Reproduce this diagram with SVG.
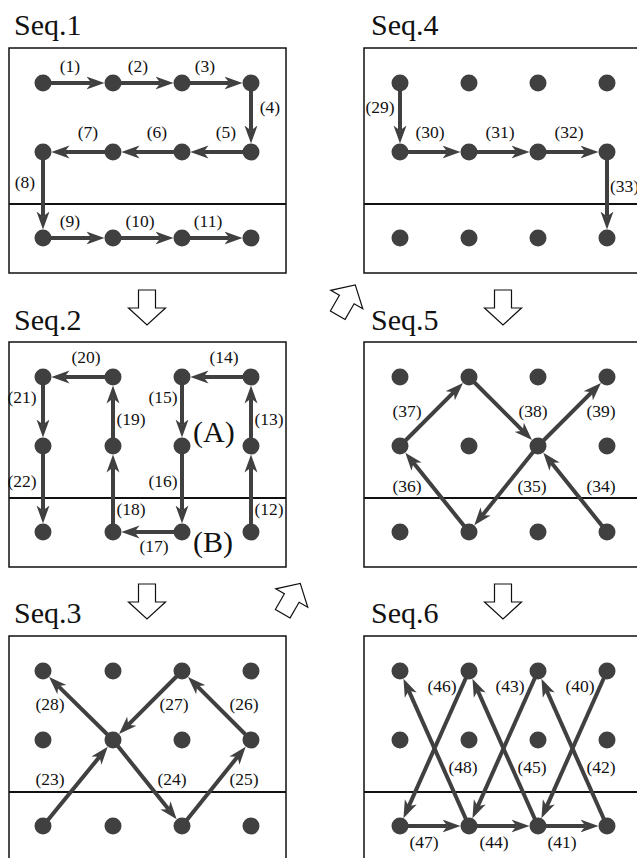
<svg xmlns="http://www.w3.org/2000/svg" width="637" height="858" viewBox="0 0 637 858">
<style>
.box{fill:none;stroke:#111;stroke-width:1.5}
.div{stroke:#111;stroke-width:2}
.dot{fill:#404040}
.c line{stroke:#404040;stroke-width:4;marker-end:url(#ah)}
.t{font-family:"Liberation Serif","Times New Roman",serif;font-size:30px;fill:#111}
.l{font-family:"Liberation Serif","Times New Roman",serif;font-size:17.5px;fill:#111;text-anchor:middle}
.big{font-family:"Liberation Serif","Times New Roman",serif;font-size:30px;fill:#111}
.ha{fill:#fff;stroke:#111;stroke-width:1.2}
</style>
<defs>
<marker id="ah" markerUnits="userSpaceOnUse" markerWidth="18" markerHeight="14" viewBox="0 -7 18 14" refX="5" refY="0" orient="auto">
<path d="M0,-6.5 L18,0 L0,6.5 L5,0 Z" fill="#404040"/>
</marker>
<path id="harrow" d="M-8.5,-17.5 H8.5 V0.5 H18.5 L0,17.5 L-18.5,0.5 H-8.5 Z"/>
</defs>

<!-- flow arrows -->
<g id="flow">
<use href="#harrow" class="ha" transform="translate(147,307.5)"/>
<use href="#harrow" class="ha" transform="translate(503,307.5)"/>
<use href="#harrow" class="ha" transform="translate(147,601.5)"/>
<use href="#harrow" class="ha" transform="translate(503,601.5)"/>
<use href="#harrow" class="ha" transform="translate(346.5,300) rotate(-150)"/>
<use href="#harrow" class="ha" transform="translate(291.5,598.5) rotate(-150)"/>
</g>

<!-- Seq.1 -->
<g id="seq1">
<text class="t" x="14" y="35">Seq.1</text>
<rect class="box" x="9" y="48" width="277" height="225"/>
<line class="div" x1="9" y1="204" x2="286" y2="204"/>
<g class="c" id="seq1-conn">
<line x1="43" y1="83" x2="91.5" y2="83"/>
<line x1="113" y1="83" x2="160.5" y2="83"/>
<line x1="182" y1="83" x2="229.5" y2="83"/>
<line x1="251" y1="83" x2="251" y2="130.5"/>
<line x1="251" y1="152" x2="203.5" y2="152"/>
<line x1="182" y1="152" x2="134.5" y2="152"/>
<line x1="113" y1="152" x2="64.5" y2="152"/>
<line x1="43" y1="152" x2="43" y2="216.5"/>
<line x1="43" y1="238" x2="91.5" y2="238"/>
<line x1="113" y1="238" x2="160.5" y2="238"/>
<line x1="182" y1="238" x2="229.5" y2="238"/>
</g>
<g id="seq1-nodes">
<circle class="dot" cx="43" cy="83" r="8.5"/><circle class="dot" cx="113" cy="83" r="8.5"/><circle class="dot" cx="182" cy="83" r="8.5"/><circle class="dot" cx="251" cy="83" r="8.5"/>
<circle class="dot" cx="43" cy="152" r="8.5"/><circle class="dot" cx="113" cy="152" r="8.5"/><circle class="dot" cx="182" cy="152" r="8.5"/><circle class="dot" cx="251" cy="152" r="8.5"/>
<circle class="dot" cx="43" cy="238" r="8.5"/><circle class="dot" cx="113" cy="238" r="8.5"/><circle class="dot" cx="182" cy="238" r="8.5"/><circle class="dot" cx="251" cy="238" r="8.5"/>
</g>
<g id="seq1-labels">
<text class="l" x="70" y="72">(1)</text>
<text class="l" x="138" y="72">(2)</text>
<text class="l" x="205" y="72">(3)</text>
<text class="l" x="270" y="113">(4)</text>
<text class="l" x="226" y="138">(5)</text>
<text class="l" x="157" y="138">(6)</text>
<text class="l" x="88" y="138">(7)</text>
<text class="l" x="25" y="188">(8)</text>
<text class="l" x="70" y="227">(9)</text>
<text class="l" x="140" y="227">(10)</text>
<text class="l" x="208" y="227">(11)</text>
</g>
</g>

<!-- Seq.4 -->
<g id="seq4">
<text class="t" x="371" y="35">Seq.4</text>
<rect class="box" x="364" y="48" width="277" height="225"/>
<line class="div" x1="364" y1="204" x2="641" y2="204"/>
<g class="c" id="seq4-conn">
<line x1="400" y1="83" x2="400" y2="130.5"/>
<line x1="400" y1="152" x2="447.5" y2="152"/>
<line x1="469" y1="152" x2="516.5" y2="152"/>
<line x1="538" y1="152" x2="585.5" y2="152"/>
<line x1="607" y1="152" x2="607" y2="216.5"/>
</g>
<g id="seq4-nodes">
<circle class="dot" cx="400" cy="83" r="8.5"/><circle class="dot" cx="469" cy="83" r="8.5"/><circle class="dot" cx="538" cy="83" r="8.5"/><circle class="dot" cx="607" cy="83" r="8.5"/>
<circle class="dot" cx="400" cy="152" r="8.5"/><circle class="dot" cx="469" cy="152" r="8.5"/><circle class="dot" cx="538" cy="152" r="8.5"/><circle class="dot" cx="607" cy="152" r="8.5"/>
<circle class="dot" cx="400" cy="238" r="8.5"/><circle class="dot" cx="469" cy="238" r="8.5"/><circle class="dot" cx="538" cy="238" r="8.5"/><circle class="dot" cx="607" cy="238" r="8.5"/>
</g>
<g id="seq4-labels">
<text class="l" x="380" y="113">(29)</text>
<text class="l" x="430" y="138">(30)</text>
<text class="l" x="500" y="138">(31)</text>
<text class="l" x="569" y="138">(32)</text>
<text class="l" x="610" y="192" style="text-anchor:start">(33)</text>
</g>
</g>

<!-- Seq.2 -->
<g id="seq2">
<text class="t" x="14" y="330">Seq.2</text>
<rect class="box" x="9" y="342" width="277" height="225"/>
<line class="div" x1="9" y1="498" x2="286" y2="498"/>
<g class="c" id="seq2-conn">
<line x1="251" y1="532" x2="251" y2="467.5"/>
<line x1="251" y1="446" x2="251" y2="398.5"/>
<line x1="251" y1="377" x2="203.5" y2="377"/>
<line x1="182" y1="377" x2="182" y2="424.5"/>
<line x1="182" y1="446" x2="182" y2="510.5"/>
<line x1="182" y1="532" x2="134.5" y2="532"/>
<line x1="113" y1="532" x2="113" y2="467.5"/>
<line x1="113" y1="446" x2="113" y2="398.5"/>
<line x1="113" y1="377" x2="64.5" y2="377"/>
<line x1="43" y1="377" x2="43" y2="424.5"/>
<line x1="43" y1="446" x2="43" y2="510.5"/>
</g>
<g id="seq2-nodes">
<circle class="dot" cx="43" cy="377" r="8.5"/><circle class="dot" cx="113" cy="377" r="8.5"/><circle class="dot" cx="182" cy="377" r="8.5"/><circle class="dot" cx="251" cy="377" r="8.5"/>
<circle class="dot" cx="43" cy="446" r="8.5"/><circle class="dot" cx="113" cy="446" r="8.5"/><circle class="dot" cx="182" cy="446" r="8.5"/><circle class="dot" cx="251" cy="446" r="8.5"/>
<circle class="dot" cx="43" cy="532" r="8.5"/><circle class="dot" cx="113" cy="532" r="8.5"/><circle class="dot" cx="182" cy="532" r="8.5"/><circle class="dot" cx="251" cy="532" r="8.5"/>
</g>
<g id="seq2-labels">
<text class="l" x="269" y="515">(12)</text>
<text class="l" x="269" y="425">(13)</text>
<text class="l" x="224" y="363">(14)</text>
<text class="l" x="163" y="403">(15)</text>
<text class="l" x="163" y="487">(16)</text>
<text class="l" x="154" y="552">(17)</text>
<text class="l" x="131" y="515">(18)</text>
<text class="l" x="131" y="425">(19)</text>
<text class="l" x="86" y="363">(20)</text>
<text class="l" x="22" y="403">(21)</text>
<text class="l" x="22" y="487">(22)</text>
<text class="big" x="193" y="442">(A)</text>
<text class="big" x="193" y="552">(B)</text>
</g>
</g>

<!-- Seq.5 -->
<g id="seq5">
<text class="t" x="371" y="330">Seq.5</text>
<rect class="box" x="364" y="342" width="277" height="225"/>
<line class="div" x1="364" y1="498" x2="641" y2="498"/>
<g class="c" id="seq5-conn">
<line x1="607" y1="532" x2="551.45" y2="462.77"/>
<line x1="538" y1="446" x2="482.45" y2="515.23"/>
<line x1="469" y1="532" x2="413.45" y2="462.77"/>
<line x1="400" y1="446" x2="453.8" y2="392.2"/>
<line x1="469" y1="377" x2="522.8" y2="430.8"/>
<line x1="538" y1="446" x2="591.8" y2="392.2"/>
</g>
<g id="seq5-nodes">
<circle class="dot" cx="400" cy="377" r="8.5"/><circle class="dot" cx="469" cy="377" r="8.5"/><circle class="dot" cx="538" cy="377" r="8.5"/><circle class="dot" cx="607" cy="377" r="8.5"/>
<circle class="dot" cx="400" cy="446" r="8.5"/><circle class="dot" cx="469" cy="446" r="8.5"/><circle class="dot" cx="538" cy="446" r="8.5"/><circle class="dot" cx="607" cy="446" r="8.5"/>
<circle class="dot" cx="400" cy="532" r="8.5"/><circle class="dot" cx="469" cy="532" r="8.5"/><circle class="dot" cx="538" cy="532" r="8.5"/><circle class="dot" cx="607" cy="532" r="8.5"/>
</g>
<g id="seq5-labels">
<text class="l" x="601" y="492">(34)</text>
<text class="l" x="532" y="492">(35)</text>
<text class="l" x="407" y="492">(36)</text>
<text class="l" x="407" y="417">(37)</text>
<text class="l" x="533" y="417">(38)</text>
<text class="l" x="601" y="417">(39)</text>
</g>
</g>

<!-- Seq.3 -->
<g id="seq3">
<text class="t" x="14" y="623">Seq.3</text>
<rect class="box" x="9" y="636" width="277" height="225"/>
<line class="div" x1="9" y1="792" x2="286" y2="792"/>
<g class="c" id="seq3-conn">
<line x1="43" y1="826" x2="99.55" y2="756.77"/>
<line x1="113" y1="740" x2="168.55" y2="809.23"/>
<line x1="182" y1="826" x2="237.55" y2="756.77"/>
<line x1="251" y1="740" x2="197.2" y2="686.2"/>
<line x1="182" y1="671" x2="128.2" y2="724.8"/>
<line x1="113" y1="740" x2="58.3" y2="686.1"/>
</g>
<g id="seq3-nodes">
<circle class="dot" cx="43" cy="671" r="8.5"/><circle class="dot" cx="113" cy="671" r="8.5"/><circle class="dot" cx="182" cy="671" r="8.5"/><circle class="dot" cx="251" cy="671" r="8.5"/>
<circle class="dot" cx="43" cy="740" r="8.5"/><circle class="dot" cx="113" cy="740" r="8.5"/><circle class="dot" cx="182" cy="740" r="8.5"/><circle class="dot" cx="251" cy="740" r="8.5"/>
<circle class="dot" cx="43" cy="826" r="8.5"/><circle class="dot" cx="113" cy="826" r="8.5"/><circle class="dot" cx="182" cy="826" r="8.5"/><circle class="dot" cx="251" cy="826" r="8.5"/>
</g>
<g id="seq3-labels">
<text class="l" x="50" y="785">(23)</text>
<text class="l" x="172" y="785">(24)</text>
<text class="l" x="244" y="785">(25)</text>
<text class="l" x="244" y="710">(26)</text>
<text class="l" x="174" y="710">(27)</text>
<text class="l" x="50" y="710">(28)</text>
</g>
</g>

<!-- Seq.6 -->
<g id="seq6">
<text class="t" x="371" y="623">Seq.6</text>
<rect class="box" x="364" y="636" width="277" height="225"/>
<line class="div" x1="364" y1="792" x2="641" y2="792"/>
<g class="c" id="seq6-conn">
<line x1="607" y1="671" x2="546.74" y2="806.36"/>
<line x1="538" y1="826" x2="585.5" y2="826"/>
<line x1="607" y1="826" x2="546.74" y2="690.64"/>
<line x1="538" y1="671" x2="477.74" y2="806.36"/>
<line x1="469" y1="826" x2="516.5" y2="826"/>
<line x1="538" y1="826" x2="477.74" y2="690.64"/>
<line x1="469" y1="671" x2="408.74" y2="806.36"/>
<line x1="400" y1="826" x2="447.5" y2="826"/>
<line x1="469" y1="826" x2="408.74" y2="690.64"/>
</g>
<g id="seq6-nodes">
<circle class="dot" cx="400" cy="671" r="8.5"/><circle class="dot" cx="469" cy="671" r="8.5"/><circle class="dot" cx="538" cy="671" r="8.5"/><circle class="dot" cx="607" cy="671" r="8.5"/>
<circle class="dot" cx="400" cy="740" r="8.5"/><circle class="dot" cx="469" cy="740" r="8.5"/><circle class="dot" cx="538" cy="740" r="8.5"/><circle class="dot" cx="607" cy="740" r="8.5"/>
<circle class="dot" cx="400" cy="826" r="8.5"/><circle class="dot" cx="469" cy="826" r="8.5"/><circle class="dot" cx="538" cy="826" r="8.5"/><circle class="dot" cx="607" cy="826" r="8.5"/>
</g>
<g id="seq6-labels">
<text class="l" x="580" y="692">(40)</text>
<text class="l" x="562" y="848">(41)</text>
<text class="l" x="601" y="773">(42)</text>
<text class="l" x="510" y="692">(43)</text>
<text class="l" x="494" y="848">(44)</text>
<text class="l" x="532" y="773">(45)</text>
<text class="l" x="442" y="692">(46)</text>
<text class="l" x="424" y="848">(47)</text>
<text class="l" x="463" y="773">(48)</text>
</g>
</g>
</svg>
